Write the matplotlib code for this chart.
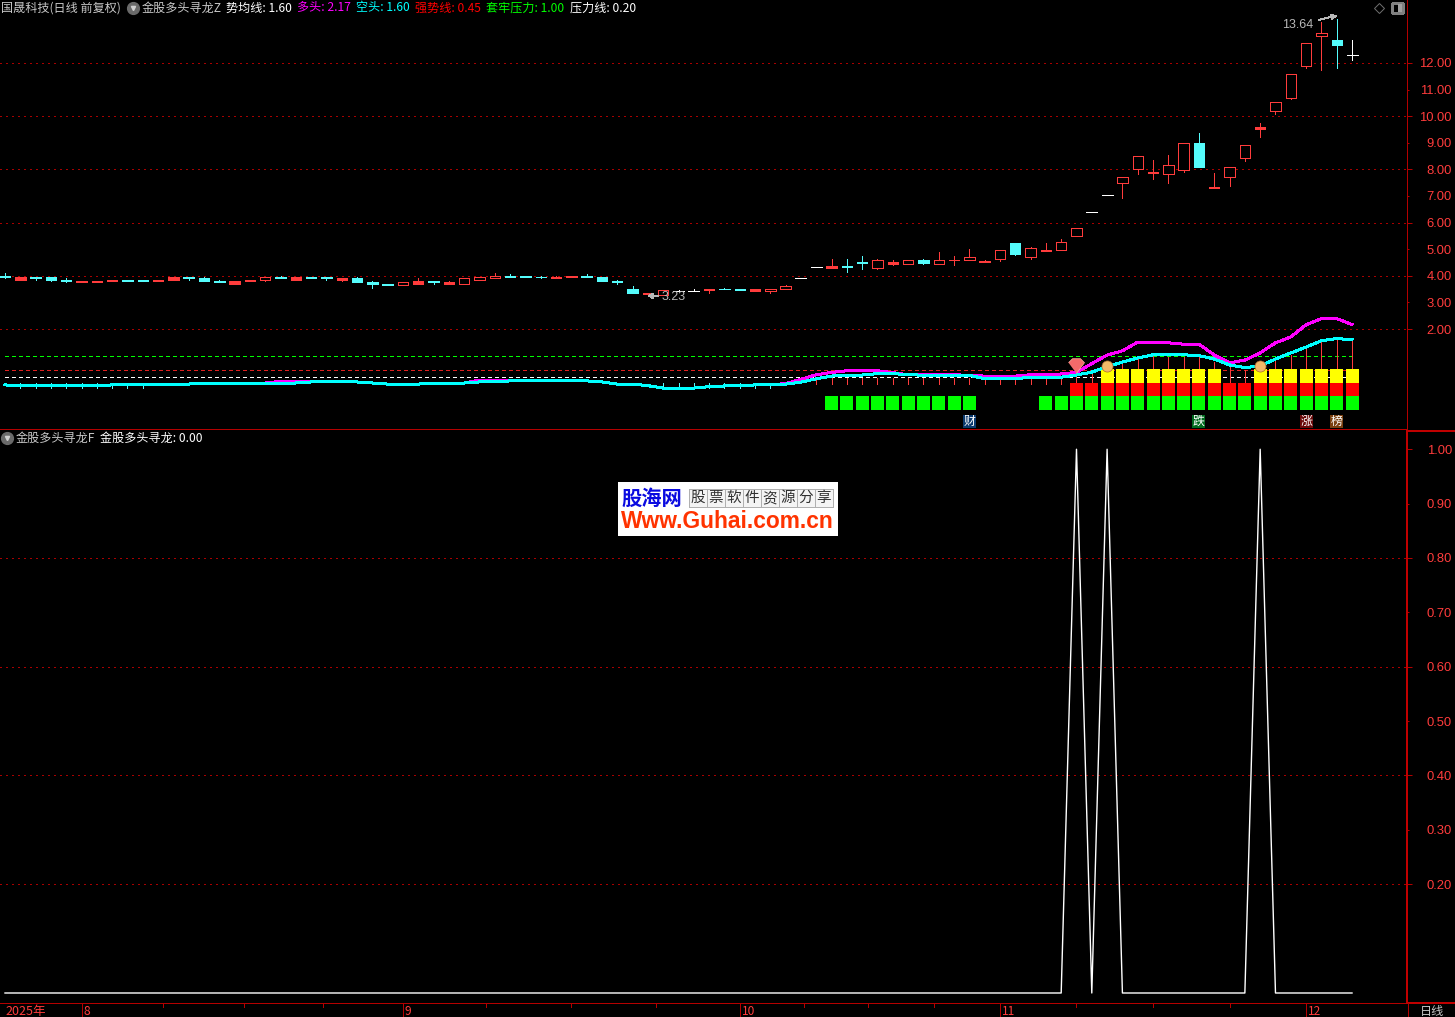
import numpy as np
import matplotlib
matplotlib.use('Agg')
import matplotlib.pyplot as plt
from matplotlib.lines import Line2D
from matplotlib.patches import Rectangle

plt.rcParams['font.family'] = ['Noto Sans CJK SC', 'DejaVu Sans']
plt.rcParams['lines.antialiased'] = False
plt.rcParams['patch.antialiased'] = False

# candles
open_px = [4.01, 3.86, 3.94, 3.94, 3.86, 3.75, 3.75, 3.82, 3.86, 3.86,
           3.82, 3.86, 3.94, 3.90, 3.82, 3.71, 3.79, 3.84, 3.97, 3.86,
           3.94, 3.94, 3.86, 3.90, 3.75, 3.71, 3.64, 3.71, 3.79, 3.71,
           3.71, 3.86, 3.90, 4.01, 4.01, 3.97, 3.90, 3.94, 4.01, 3.97,
           3.82, 3.52, 3.30, 3.26, 3.44, 3.44, 3.45, 3.52, 3.52, 3.41,
           3.42, 3.49, 3.92, 4.34, 4.29, 4.38, 4.51, 4.29, 4.45, 4.45,
           4.60, 4.45, 4.58, 4.60, 4.51, 4.64, 5.22, 4.71, 4.95, 4.98,
           5.50, 6.40, 7.02, 7.48, 8.00, 7.88, 7.84, 7.99, 9.00, 7.30,
           7.70, 8.44, 9.51, 10.18, 10.67, 11.87, 13.01, 12.88, 12.29]
close_px = [3.94, 3.94, 3.91, 3.86, 3.79, 3.82, 3.82, 3.86, 3.82, 3.82,
            3.86, 3.94, 3.90, 3.82, 3.75, 3.79, 3.86, 3.94, 3.90, 3.94,
            3.90, 3.90, 3.90, 3.75, 3.71, 3.67, 3.75, 3.79, 3.75, 3.75,
            3.90, 3.97, 4.01, 3.97, 3.94, 3.94, 3.94, 4.01, 3.97, 3.82,
            3.75, 3.37, 3.34, 3.45, 3.44, 3.44, 3.52, 3.49, 3.45, 3.49,
            3.52, 3.60, 3.92, 4.34, 4.38, 4.34, 4.48, 4.60, 4.53, 4.60,
            4.48, 4.60, 4.61, 4.71, 4.54, 4.98, 4.81, 5.05, 4.98, 5.28,
            5.80, 6.40, 7.02, 7.70, 8.49, 7.92, 8.16, 8.98, 8.10, 7.33,
            8.08, 8.91, 9.59, 10.53, 11.59, 12.75, 13.13, 12.67, 12.29]
high_px = [4.09, 3.94, 3.97, 3.94, 3.90, 3.82, 3.82, 3.86, 3.86, 3.86,
           3.86, 3.94, 3.95, 3.94, 3.86, 3.79, 3.86, 3.94, 4.01, 3.94,
           3.94, 3.94, 3.90, 3.94, 3.79, 3.71, 3.75, 3.90, 3.82, 3.82,
           3.90, 3.97, 4.09, 4.05, 4.01, 4.01, 4.00, 4.01, 4.05, 3.97,
           3.86, 3.60, 3.34, 3.45, 3.46, 3.49, 3.52, 3.56, 3.52, 3.49,
           3.52, 3.64, 3.92, 4.34, 4.62, 4.62, 4.76, 4.64, 4.61, 4.60,
           4.64, 4.88, 4.76, 4.99, 4.61, 4.98, 5.22, 5.10, 5.25, 5.37,
           5.80, 6.40, 7.02, 7.70, 8.49, 8.36, 8.55, 8.98, 9.37, 7.87,
           8.08, 8.91, 9.75, 10.53, 11.59, 12.75, 13.53, 13.64, 12.88]
low_px = [3.90, 3.86, 3.86, 3.82, 3.75, 3.75, 3.75, 3.82, 3.79, 3.82,
          3.82, 3.86, 3.86, 3.82, 3.75, 3.71, 3.79, 3.79, 3.90, 3.86,
          3.90, 3.86, 3.82, 3.75, 3.56, 3.64, 3.64, 3.71, 3.71, 3.71,
          3.71, 3.86, 3.90, 3.94, 3.94, 3.90, 3.90, 3.94, 3.94, 3.79,
          3.71, 3.37, 3.23, 3.26, 3.44, 3.44, 3.37, 3.49, 3.45, 3.41,
          3.34, 3.49, 3.92, 4.34, 4.29, 4.14, 4.25, 4.25, 4.40, 4.45,
          4.44, 4.45, 4.40, 4.60, 4.51, 4.55, 4.77, 4.65, 4.95, 4.98,
          5.50, 6.40, 7.02, 6.94, 7.84, 7.65, 7.47, 7.92, 8.10, 7.30,
          7.39, 8.32, 9.23, 10.09, 10.63, 11.82, 11.75, 11.82, 12.13]

# indicator lines
kong_tou = [-.10, -.14, -.14, -.14, -.14, -.14, -.14, -.10, -.10, -.10,
            -.10, -.07, -.07, -.03, -.03, -.03, -.03, -.03, -.03, -.03,
            .01, .01, .01, .01, -.03, -.07, -.07, -.07, -.03, -.03,
            -.03, .01, .01, .05, .05, .05, .05, .05, .05, .01,
            -.07, -.07, -.13, -.22, -.22, -.22, -.17, -.14, -.14, -.10,
            -.10, -.07, .00, .13, .23, .27, .27, .32, .32, .29,
            .26, .26, .26, .26, .13, .13, .13, .19, .19, .19,
            .27, .38, .58, .76, .91, 1.03, 1.03, 1.03, 1.00, .87,
            .65, .55, .61, .87, 1.10, 1.32, 1.56, 1.64, 1.60]
duo_tou = [-.10, -.14, -.14, -.14, -.14, -.14, -.14, -.10, -.10, -.10,
           -.10, -.07, -.07, -.03, -.03, -.03, -.03, -.03, .03, .03,
           .01, .01, .01, .01, -.03, -.07, -.07, -.07, -.03, -.03,
           -.03, .08, .08, .08, .08, .08, .08, .05, .05, .01,
           -.07, -.07, -.13, -.22, -.22, -.22, -.17, -.14, -.14, -.10,
           -.10, -.05, .11, .28, .37, .43, .43, .43, .36, .28,
           .28, .28, .28, .26, .23, .23, .23, .28, .28, .31,
           .37, .70, 1.02, 1.18, 1.51, 1.50, 1.48, 1.43, 1.43, 1.02,
           .73, .83, 1.10, 1.48, 1.70, 2.16, 2.39, 2.39, 2.17]
qiang_shi = 0.45
tao_lao = 1.00
ya_li = 0.20

red_stick_bars = list(range(53, 89))
red_stick_tops = [.17] * 17 + [.27, .40, .58, .72, .91, 1.10, .96, .96, .96,
                               .77, .58, .46, .61, .83, 1.02, 1.31, 1.52, 1.69, 1.59]
cyan_stick_bars = [1, 2, 3, 4, 5, 6, 7, 8, 9, 43, 44, 45, 46, 47, 48, 49, 50]
cyan_stick_top = -0.04

green_bars = list(range(54, 64)) + list(range(68, 89))
red_bars = list(range(70, 89))
yellow_bars = list(range(72, 80)) + list(range(82, 89))
green_span = (-1.045, -0.519)
red_span = (-0.519, -0.04)
yellow_span = (-0.04, 0.496)

badge_bars = [63, 78, 85, 87]
badge_text = ['财', '跌', '涨', '榜']
badge_color = ['#0a3a6e', '#006a1e', '#6a0a0a', '#7a4010']

hand_bars = [72, 82]
gem_bar = 70

# lower panel
signal_bars = [70, 72, 82]
signal = [0.0] * 89
for b in signal_bars:
    signal[b] = 1.0

price_ticks = [12, 11, 10, 9, 8, 7, 6, 5, 4, 3, 2]
price_grid = [12, 10, 8, 6, 4, 2]
signal_ticks = [1.0, .9, .8, .7, .6, .5, .4, .3, .2]
signal_grid = [.8, .6, .4, .2]

month_bars = [5, 26, 48, 65, 85]
month_text = ['8', '9', '10', '11', '12']
minor_bars = [10.3, 15.6, 20.8, 31.4, 37, 42.5, 52.2, 56.4, 60.7, 70, 75, 80]

BG = 'black'
RED = '#ff3c3c'
CYAN = '#54fcfc'
GRID = '#a80000'
AXIS = '#b40000'
PX = 0.72  # one pixel in points at dpi 100

W, H = 1455, 1017
fig = plt.figure(figsize=(W / 100, H / 100), dpi=100, facecolor=BG)


def box(x0, y0, x1, y1):
    return [x0 / W, 1 - y1 / H, (x1 - x0) / W, (y1 - y0) / H]


def ftext(x, y, s, color, size=8.7, **kw):
    kw.setdefault('va', 'center')
    fig.text(x / W, 1 - y / H, s, color=color, fontsize=size, **kw)


def fline(xs, ys, color, lw=PX):
    fig.add_artist(Line2D([x / W for x in xs], [1 - y / H for y in ys], color=color, lw=lw))


bar_left = -5 / 15.307
bar_right = (1407 - 5) / 15.307
x = np.arange(89)

ax = fig.add_axes(box(0, 0, 1407, 429), facecolor=BG)
ax2 = fig.add_axes(box(0, 430, 1407, 1003), facecolor=BG)
ax3 = fig.add_axes(box(0, 1003, 1407, 1017), facecolor=BG)
for a in (ax, ax2, ax3):
    a.set_xlim(bar_left, bar_right)
    a.set_xticks([])
    for s in a.spines.values():
        s.set_visible(False)
ax.set_ylim(-1.759, 14.368)
ax2.set_ylim(-0.0184, 1.0354)
ax3.set_ylim(0, 1)
ax3.set_yticks([])

for a, ticks, grid in ((ax, price_ticks, price_grid), (ax2, signal_ticks, signal_grid)):
    a.yaxis.tick_right()
    a.set_yticks(ticks)
    a.set_yticklabels(['%.2f' % t for t in ticks], fontfamily='Liberation Sans')
    a.tick_params(axis='y', colors=AXIS, length=3.6, width=PX, pad=28.8, labelsize=9.4, labelcolor=RED)
    for lab in a.get_yticklabels():
        lab.set_horizontalalignment('right')
    # every other tick is short
    for k, t in enumerate(a.yaxis.get_major_ticks()):
        t.tick2line.set_markersize(3.6 if k % 2 == 0 else 1.5)
    a.spines['right'].set_visible(True)
    a.spines['right'].set_color(AXIS)
    a.spines['right'].set_linewidth(PX)
    for g in grid:
        a.axhline(g, color=GRID, lw=PX, ls=(0, (1.4, 4.2)), zorder=1)
ax2.spines['right'].set_linewidth(1.44)
ax2.spines['right'].set_color('#c00000')

# candles
for i in x:
    o, h, l, c = open_px[i], high_px[i], low_px[i], close_px[i]
    col = RED if c > o else (CYAN if c < o else 'white')
    top, bot = max(o, c), min(o, c)
    ax.vlines(i, top, h, color=col, lw=PX, zorder=3)
    ax.vlines(i, l, bot, color=col, lw=PX, zorder=3)
    if c == o:
        ax.hlines(o, i - .36, i + .36, color=col, lw=PX, zorder=3)
    elif c > o and top - bot >= .09:
        ax.bar(i, top - bot, bottom=bot, width=.68, facecolor=BG, edgecolor=col, lw=PX, zorder=3)
    else:
        # thin up bars close up into a solid strip
        ax.bar(i, top - bot, bottom=bot, width=.68, facecolor=col, edgecolor=col, lw=PX, zorder=3)

# price extremes
ax.annotate('13.64', xy=(87, 13.78), xytext=(1313, 404), textcoords='axes pixels',
            color='#b8b8b8', fontsize=9.0, fontfamily='Liberation Sans', ha='right', va='center',
            arrowprops=dict(arrowstyle='->', color='#b8b8b8', lw=PX, shrinkA=2, shrinkB=0,
                            mutation_scale=7))
ax.annotate('3.23', xy=(42, 3.25), xytext=(662, 132), textcoords='axes pixels',
            color='#b8b8b8', fontsize=9.0, fontfamily='Liberation Sans', ha='left', va='center',
            arrowprops=dict(arrowstyle='->', color='#b8b8b8', lw=PX, shrinkA=1, shrinkB=0,
                            mutation_scale=7))

# indicator
ax.plot(x, [tao_lao] * 89, color='#00ff00', lw=PX, ls=(0, (4, 4)), zorder=2)
ax.plot(x, [qiang_shi] * 89, color='#e02020', lw=PX, ls=(0, (4, 4)), zorder=2)
ax.plot(x, [ya_li] * 89, color='white', lw=PX, ls=(0, (4, 4)), zorder=2)
ax.vlines(red_stick_bars, -0.07, red_stick_tops, color=RED, lw=PX, zorder=2)
ax.vlines(cyan_stick_bars, -0.2, cyan_stick_top, color=CYAN, lw=PX, zorder=2)
ax.plot(x, duo_tou, color='#ff00ff', lw=PX * 2, zorder=4)
ax.plot(x, kong_tou, color='#00ffff', lw=PX * 2, zorder=5)

for bars, span, col in ((green_bars, green_span, '#00ff00'),
                        (red_bars, red_span, '#ff0000'),
                        (yellow_bars, yellow_span, '#ffff00')):
    ax.bar(bars, span[1] - span[0], bottom=span[0], width=.85, color=col, lw=0, zorder=3)

gem = [(-1, .35), (-.5, .85), (.5, .85), (1, .35), (0, -1)]
ax.plot([gem_bar], [.65], marker=gem, ms=11.5, color='#f46a6a', mec='#ffb0a0', mew=.5, ls='none', zorder=6)
ax.plot(hand_bars, [.6, .6], marker='o', ms=8, color='#f2b968', mec='#a8682c', mew=.5, ls='none', zorder=6)

for b, t, c in zip(badge_bars, badge_text, badge_color):
    xc = 5 + b * 15.307
    fig.add_artist(Rectangle(((xc - 6.5) / W, 1 - 428 / H), 13 / W, 13 / H, transform=fig.transFigure,
                             facecolor=c, edgecolor='none'))
    ftext(xc, 421.5, t, 'white', ha='center', size=8.6)

# lower panel line, drawn smooth so the slopes stay thin
ax2.plot(x, signal, color='white', lw=1.0, antialiased=True, zorder=3)

# date strip
ax3.vlines(month_bars, 0, 1, color=AXIS, lw=PX)
ax3.vlines(minor_bars, .75, 1, color=AXIS, lw=PX)
for b, t in zip(month_bars, month_text):
    ax3.text(b + .12, .42, t, color=RED, fontsize=8.6, va='center', ha='left')
ax3.text(bar_left + 5 / 15.307, .42, '2025年', color=RED, fontsize=9, va='center', ha='left')
ftext(1420, 1011, '日线', '#c8c8c8')

# frame lines
fline([0, 1407], [429, 429], AXIS)
fline([1407, 1455], [430.5, 430.5], '#c00000', 1.44)
fline([0, 1407], [1003, 1003], AXIS)
fline([1407, 1455], [1003, 1003], '#c00000', 1.44)
fline([1407.5, 1407.5], [1003, 1017], AXIS)

# legend rows
ftext(1, 8, '国晟科技(日线 前复权)', '#c8c8c8')
ftext(142, 8, '金股多头寻龙Z', '#c8c8c8')
ftext(226, 8, '势均线: 1.60', 'white')
ftext(297, 8, '多头: 2.17', '#ff00ff')
ftext(356, 8, '空头: 1.60', '#00ffff')
ftext(415, 8, '强势线: 0.45', '#ff0000')
ftext(486, 8, '套牢压力: 1.00', '#00ff00')
ftext(570, 8, '压力线: 0.20', 'white')
ftext(16, 438.5, '金股多头寻龙F', '#c8c8c8')
ftext(100, 438.5, '金股多头寻龙: 0.00', 'white')
for cx, cy in ((133, 8), (7, 438)):
    fig.add_artist(Line2D([cx / W], [1 - cy / H], marker='o', ms=8.5, color='#6a6a6a', ls='none'))
    fig.add_artist(Line2D([cx / W], [1 - cy / H], marker='v', ms=3, color='#d0d0d0', ls='none'))

# window icons
fig.add_artist(Line2D([1379 / W], [1 - 8 / H], marker='D', ms=5.5, mfc='none', mec='#707070', mew=.7, ls='none'))
fig.add_artist(Rectangle((1392 / W, 1 - 13 / H), 11 / W, 10 / H, transform=fig.transFigure,
                         facecolor='none', edgecolor='#808080', lw=.9))
fig.add_artist(Rectangle((1398 / W, 1 - 12 / H), 4 / W, 8 / H, transform=fig.transFigure,
                         facecolor='#a0a0a0', edgecolor='none'))

# watermark
logo = Rectangle((618 / W, 1 - 536 / H), 220 / W, 54 / H, transform=fig.transFigure,
                 facecolor='white', edgecolor='none', zorder=5)
fig.add_artist(logo)
ftext(621, 498, '股海网', '#0a0ae0', size=14.6, fontweight='bold', zorder=6)
for k, ch in enumerate('股票软件资源分享'):
    cx = 689 + k * 18
    fig.add_artist(Rectangle((cx / W, 1 - 507 / H), 18 / W, 18 / H, transform=fig.transFigure,
                             facecolor='#f4f4f4', edgecolor='#b0b0b0', lw=.6, zorder=6))
    ftext(cx + 9, 498, ch, '#303030', size=10.5, ha='center', zorder=7)
ftext(621, 521, 'Www.Guhai.com.cn', '#ff3300', size=16.4, fontweight='bold',
      fontfamily='Liberation Sans', zorder=6)

fig.savefig('out.png', dpi=100, facecolor=BG)
